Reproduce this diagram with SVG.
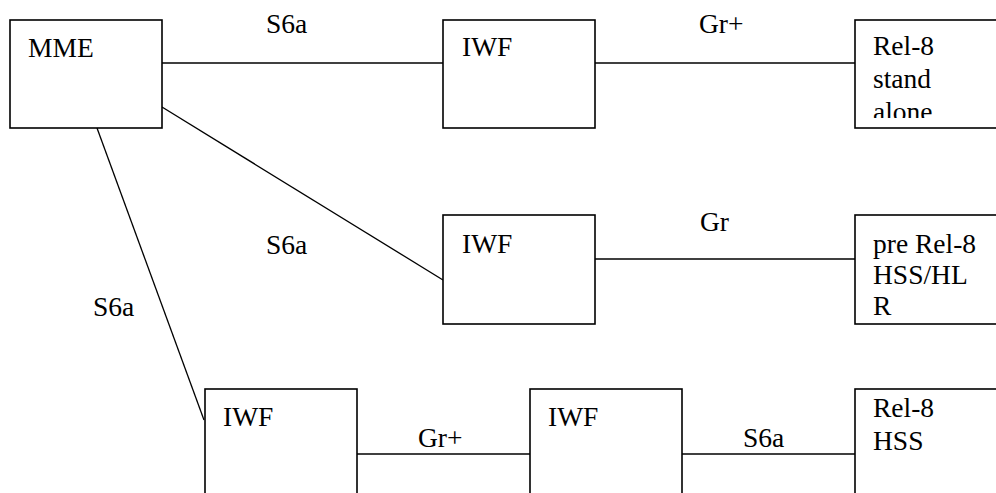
<svg xmlns="http://www.w3.org/2000/svg" width="996" height="493" viewBox="0 0 996 493">
  <style>
    .box { fill: #ffffff; stroke: #000000; stroke-width: 1.6; }
    .link { stroke: #000000; stroke-width: 1.3; fill: none; }
    text { font-family: "Liberation Serif", "Times New Roman", serif; font-size: 27.5px; fill: #000000; }
  </style>
  <defs>
    <clipPath id="clip-rel8-alone"><rect x="855" y="20" width="141" height="98"/></clipPath>
    <clipPath id="clip-pre-rel8"><rect x="855" y="215" width="141" height="101"/></clipPath>
  </defs>
  <rect width="996" height="493" fill="#ffffff"/>

  <!-- Connectors -->
  <g id="connectors">
    <line class="link" x1="162" y1="63" x2="443" y2="63"/>
    <line class="link" x1="595" y1="63" x2="855" y2="63"/>
    <line class="link" x1="162" y1="107" x2="443" y2="280"/>
    <line class="link" x1="595" y1="259" x2="855" y2="259"/>
    <line class="link" x1="97" y1="128" x2="204" y2="420"/>
    <line class="link" x1="357" y1="454" x2="530" y2="454"/>
    <line class="link" x1="682" y1="454" x2="855" y2="454"/>
    <text x="266" y="33">S6a</text>
    <text x="699" y="33">Gr+</text>
    <text x="266" y="254">S6a</text>
    <text x="700" y="231">Gr</text>
    <text x="93" y="316">S6a</text>
    <text x="418" y="447">Gr+</text>
    <text x="743" y="447">S6a</text>
  </g>

  <!-- Nodes -->
  <g id="mme">
    <rect class="box" x="10" y="20" width="152" height="108"/>
    <text x="28" y="57">MME</text>
  </g>
  <g id="iwf-top">
    <rect class="box" x="443" y="20" width="152" height="108"/>
    <text x="462" y="56">IWF</text>
  </g>
  <g id="rel8-standalone">
    <rect class="box" x="855" y="20" width="160" height="108"/>
    <g clip-path="url(#clip-rel8-alone)">
      <text x="873" y="55">Rel-8</text>
      <text x="873" y="88">stand</text>
      <text x="873" y="121">alone</text>
    </g>
  </g>
  <g id="iwf-middle">
    <rect class="box" x="443" y="215" width="152" height="109"/>
    <text x="462" y="253">IWF</text>
  </g>
  <g id="pre-rel8-hss-hlr">
    <rect class="box" x="855" y="215" width="160" height="109"/>
    <g clip-path="url(#clip-pre-rel8)">
      <text x="873" y="253">pre Rel-8</text>
      <text x="873" y="284">HSS/HL</text>
      <text x="873" y="315">R</text>
    </g>
  </g>
  <g id="iwf-bottom-left">
    <rect class="box" x="205" y="389" width="152" height="120"/>
    <text x="223" y="426">IWF</text>
  </g>
  <g id="iwf-bottom-right">
    <rect class="box" x="530" y="389" width="152" height="120"/>
    <text x="548" y="426">IWF</text>
  </g>
  <g id="rel8-hss">
    <rect class="box" x="855" y="389" width="160" height="120"/>
    <text x="873" y="417">Rel-8</text>
    <text x="873" y="450">HSS</text>
  </g>
</svg>
